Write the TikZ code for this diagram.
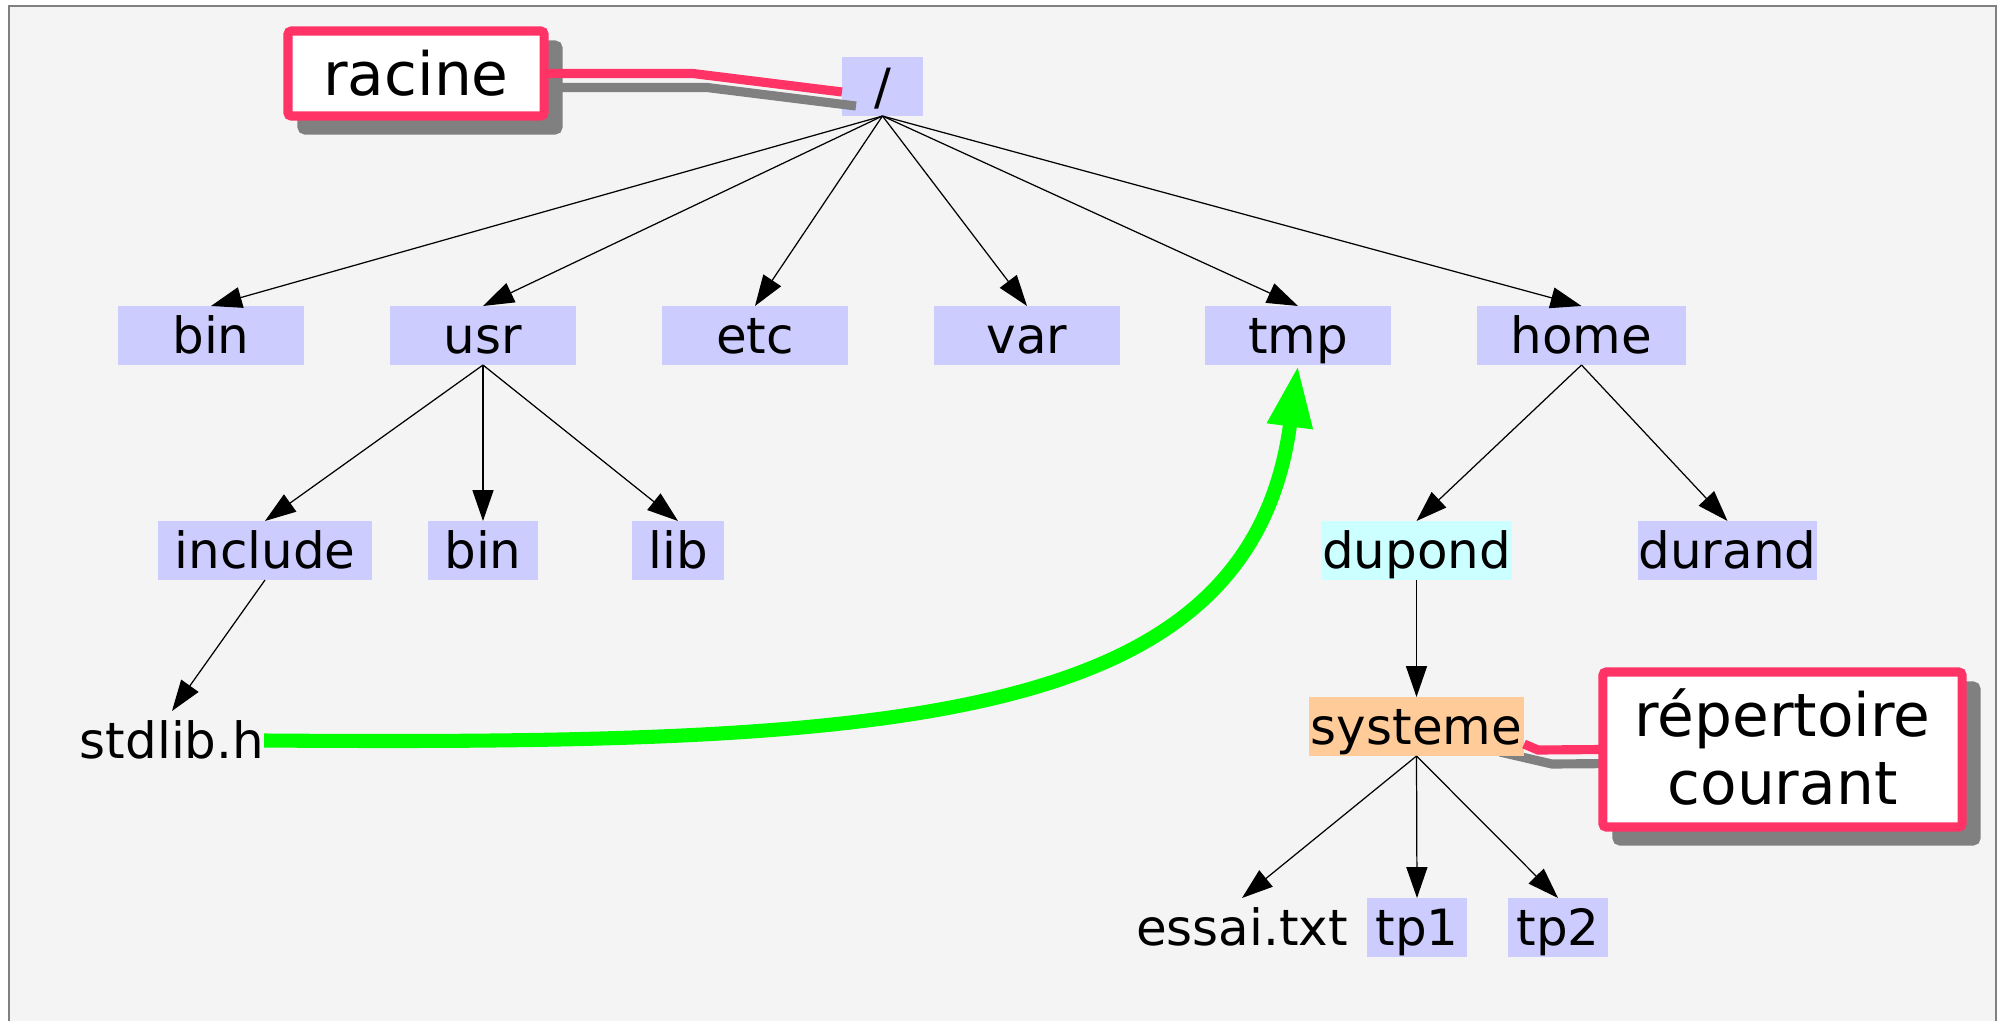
\documentclass[tikz,border=0pt]{standalone}
\usepackage{fontspec}
\setmainfont{DejaVu Sans}
\usetikzlibrary{arrows.meta,shadows}

\definecolor{pagebg}{RGB}{244,244,244}
\definecolor{framegrey}{RGB}{128,128,128}
\definecolor{dirfill}{RGB}{204,204,255}
\definecolor{homefill}{RGB}{204,255,255}
\definecolor{cwdfill}{RGB}{255,204,153}
\definecolor{calloutred}{RGB}{255,51,102}
\definecolor{shadowgrey}{RGB}{128,128,128}
\definecolor{linkgreen}{RGB}{0,255,0}

\newcommand\treefont{\fontsize{14.2pt}{17pt}\selectfont}
\newcommand\calloutfont{\fontsize{17pt}{19.6pt}\selectfont}

\pgfdeclarelayer{bglayer}
\pgfdeclarelayer{backlayer}
\pgfsetlayers{bglayer,backlayer,main}

\begin{document}
\begin{tikzpicture}[x=0.01cm,y=-0.01cm,
  entry/.style={rectangle, inner sep=0pt, outer sep=0pt, minimum height=0.59cm,
    font=\treefont, text height=11.38pt, text depth=1.42pt},
  dir/.style={entry, fill=dirfill},
  plainfile/.style={entry},
  treeedge/.style={line width=0.35pt, -{Triangle[length=8.8pt,width=6pt]}},
  callout/.style={rectangle, draw=calloutred, line width=2.6pt, fill=white,
    rounded corners=1pt, inner sep=0pt, outer sep=0pt,
    drop shadow={shadow xshift=1.4mm, shadow yshift=-1.4mm, fill=shadowgrey,
      draw=shadowgrey, line width=2.6pt, opacity=1}},
  calloutline/.style={calloutred, line width=2.6pt},
  calloutshadow/.style={shadowgrey, line width=2.6pt},
  link/.style={linkgreen, line width=4pt, -{Triangle[length=17.6pt,width=12pt]}}
]
\useasboundingbox (0,0) rectangle (2002,1021);
\clip (0,0) rectangle (2002,1021);

% page and frame
\begin{pgfonlayer}{bglayer}
  \fill[white] (0,0) rectangle (2002,1021);
  \draw[framegrey, line width=0.57pt, fill=pagebg] (9,6) rectangle (1996,1040);
\end{pgfonlayer}

% directory tree
\node[dir, minimum width=0.81cm] (root) at (882.5,86.5) {/};

\node[dir, minimum width=1.86cm] (bin)  at (211,335.5)  {bin};
\node[dir, minimum width=1.86cm] (usr)  at (483,335.5)  {usr};
\node[dir, minimum width=1.86cm] (etc)  at (755,335.5)  {etc};
\node[dir, minimum width=1.86cm] (var)  at (1027,335.5) {var};
\node[dir, minimum width=1.86cm] (tmp)  at (1298,335.5) {tmp};
\node[dir, minimum width=2.09cm] (home) at (1581.5,335.5) {home};

\node[dir, minimum width=2.14cm] (include) at (265,550.5) {include};
\node[dir, minimum width=1.10cm] (ubin)    at (483,550.5) {bin};
\node[dir, minimum width=0.92cm] (lib)     at (678,550.5) {lib};
\node[entry, fill=homefill, minimum width=1.91cm] (dupond) at (1416.5,550.5) {dupond};
\node[dir, minimum width=1.79cm] (durand)  at (1727.5,550.5) {durand};

\node[plainfile, minimum width=1.84cm] (stdlib) at (172,740.5) {stdlib.h};
\node[entry, fill=cwdfill, minimum width=2.15cm] (syst) at (1416.5,726.5) {systeme};

\node[plainfile, minimum width=2.11cm] (essai) at (1242,927.5) {essai.txt};
\node[dir, minimum width=1.00cm] (tp1) at (1417,927.5) {tp1};
\node[dir, minimum width=1.00cm] (tp2) at (1558,927.5) {tp2};

\foreach \p/\c in {root/bin, root/usr, root/etc, root/var, root/tmp, root/home,
                   usr/include, usr/ubin, usr/lib, include/stdlib,
                   home/dupond, home/durand, dupond/syst,
                   syst/essai, syst/tp1, syst/tp2}
  \draw[treeedge] (\p.south) -- (\c.north);

% callouts
\node[callout, minimum width=2.56cm, minimum height=0.85cm, font=\calloutfont,
      text height=13.66pt, text depth=1.42pt] (racine) at (416,73.5) {racine};

\node[callout, minimum width=3.59cm, minimum height=1.55cm] (cur) at (1782.5,749.5) {};
\node[anchor=base, font=\calloutfont, inner sep=0pt] (curtext) at (1782.5,736)
  {\begin{tabular}[t]{@{}c@{}}répertoire\\courant\end{tabular}};

\coordinate (rootbend) at (693,73.5);
\coordinate (systbend) at (1538,750);

\draw[calloutshadow] ([shift={(14,14)}]racine.east) -- ([shift={(14,14)}]rootbend)
  -- ([shift={(14,19.5)}]root.west);
\draw[calloutline] (racine.east) -- (rootbend) -- ([shift={(0,5.5)}]root.west);

\begin{pgfonlayer}{backlayer}
  \draw[calloutshadow] ([shift={(-24,-4)}]syst.south east) -- ([shift={(14,14)}]systbend)
    -- ([shift={(14,14)}]cur.west);
\end{pgfonlayer}
\draw[calloutline] ([shift={(0,-12)}]syst.south east) -- (systbend) -- (cur.west);

% include link
\draw[link] (stdlib.east) .. controls (900,745) and (1250,725) .. (tmp.south);

\end{tikzpicture}
\end{document}
